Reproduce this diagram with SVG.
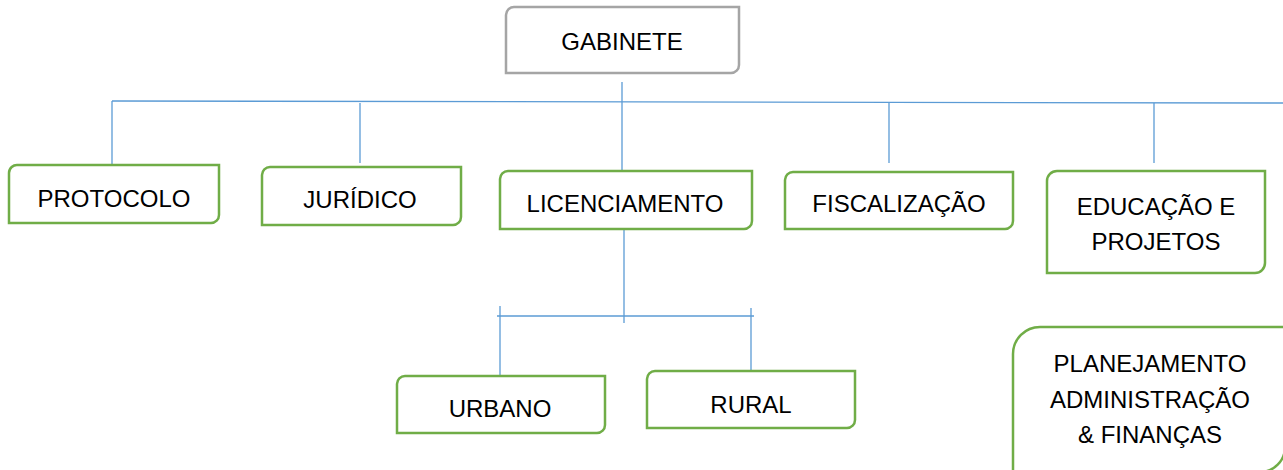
<svg xmlns="http://www.w3.org/2000/svg" width="1283" height="470" viewBox="0 0 1283 470">
<style>
.bg{fill:#ffffff}
.box{fill:#ffffff;stroke:#70ad47;stroke-width:2.5}
.top{fill:#ffffff;stroke:#a5a5a5;stroke-width:2.5}
.ln{stroke:#5b9bd5;stroke-width:1.3;fill:none}
text{font-family:"Liberation Sans",Arial,sans-serif;font-size:24px;fill:#000000;text-anchor:middle}
</style>
<rect class="bg" x="0" y="0" width="1283" height="470"/>
<g id="connectors">
<line class="ln" x1="112" y1="101" x2="1283" y2="103"/>
<line class="ln" x1="622" y1="82" x2="622" y2="171"/>
<line class="ln" x1="112" y1="101" x2="112" y2="165"/>
<line class="ln" x1="360" y1="103" x2="360" y2="163"/>
<line class="ln" x1="889" y1="103" x2="889" y2="163"/>
<line class="ln" x1="1154" y1="103" x2="1154" y2="163"/>
<line class="ln" x1="624" y1="229" x2="624" y2="323"/>
<line class="ln" x1="497" y1="316" x2="754" y2="316"/>
<line class="ln" x1="500" y1="306" x2="500" y2="376"/>
<line class="ln" x1="751" y1="308" x2="751" y2="371"/>
</g>
<g id="gabinete">
<path class="top" d="M514,7 H739 V65 A8,8 0 0 1 731,73 H506 V15 A8,8 0 0 1 514,7 Z"/>
<text x="622" y="50">GABINETE</text>
</g>
<g id="protocolo">
<path class="box" d="M18,165 H219 V215 A8,8 0 0 1 211,223 H9 V173 A8,8 0 0 1 18,165 Z"/>
<text x="114" y="207">PROTOCOLO</text>
</g>
<g id="juridico">
<path class="box" d="M270,167 H461 V217 A8,8 0 0 1 453,225 H262 V175 A8,8 0 0 1 270,167 Z"/>
<text x="360" y="208">JURÍDICO</text>
</g>
<g id="licenciamento">
<path class="box" d="M508,171 H752 V221 A8,8 0 0 1 744,229 H500 V179 A8,8 0 0 1 508,171 Z"/>
<text x="625" y="212">LICENCIAMENTO</text>
</g>
<g id="fiscalizacao">
<path class="box" d="M793,172 H1013 V221 A8,8 0 0 1 1005,229 H785 V180 A8,8 0 0 1 793,172 Z"/>
<text x="899" y="212">FISCALIZAÇÃO</text>
</g>
<g id="educacao">
<path class="box" d="M1057,171 H1265 V263 A10,10 0 0 1 1255,273 H1047 V181 A10,10 0 0 1 1057,171 Z"/>
<text x="1156" y="215">EDUCAÇÃO E</text>
<text x="1156" y="250">PROJETOS</text>
</g>
<g id="urbano">
<path class="box" d="M405,376 H605 V425 A8,8 0 0 1 597,433 H397 V384 A8,8 0 0 1 405,376 Z"/>
<text x="500" y="417">URBANO</text>
</g>
<g id="rural">
<path class="box" d="M655,371 H855 V420 A8,8 0 0 1 847,428 H647 V379 A8,8 0 0 1 655,371 Z"/>
<text x="751" y="413">RURAL</text>
</g>
<g id="planejamento">
<path class="box" d="M1040,327 H1285 V447 A25,25 0 0 1 1260,472 H1013 V354 A27,27 0 0 1 1040,327 Z"/>
<text x="1150" y="372">PLANEJAMENTO</text>
<text x="1150" y="408">ADMINISTRAÇÃO</text>
<text x="1150" y="443">&amp; FINANÇAS</text>
</g>
</svg>
